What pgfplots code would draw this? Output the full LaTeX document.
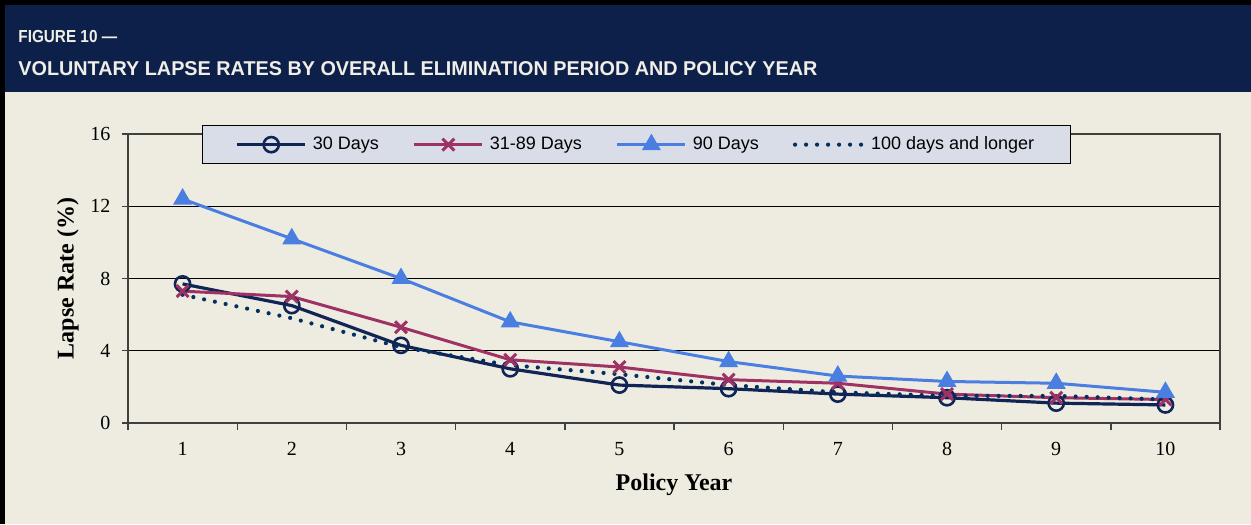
\documentclass[border=0pt]{standalone}
\usepackage{pgfplots}
\pgfplotsset{compat=1.18}
\usepackage{fontspec}
\setmainfont{Liberation Serif}
\newfontfamily\arial{Liberation Sans}
\newfontfamily\arialnarrow[FakeStretch=0.88]{Liberation Sans}
\newfontfamily\arialtitle[FakeStretch=0.99]{Liberation Sans}
\definecolor{bg}{RGB}{238,236,225}
\definecolor{headnavy}{RGB}{12,32,74}
\definecolor{headtext}{RGB}{240,238,230}
\definecolor{legfill}{RGB}{217,221,232}
\definecolor{cthirty}{RGB}{16,36,86}
\definecolor{cmid}{RGB}{158,50,100}
\definecolor{cninety}{RGB}{74,126,225}
\definecolor{chund}{RGB}{0,48,96}
\begin{document}
\begin{tikzpicture}[x=0.5pt,y=0.5pt]
\useasboundingbox (0,0) rectangle (1251,524);
\fill[bg] (0,0) rectangle (1251,524);
\fill[headnavy] (0,432) rectangle (1251,524);
\fill[black] (0,519) rectangle (1251,524);
\fill[black] (0,0) rectangle (5,524);
\node[anchor=base west, inner sep=0pt, text=headtext, font=\arialnarrow\bfseries\fontsize{8.7}{10}\selectfont] at (18,481) {FIGURE 10 —};
\node[anchor=base west, inner sep=0pt, text=headtext, font=\arialtitle\bfseries\fontsize{10}{12}\selectfont] at (18,448) {VOLUNTARY LAPSE RATES BY OVERALL ELIMINATION PERIOD AND POLICY YEAR};
\begin{axis}[
  at={(64pt,50.5pt)}, anchor=south west,
  scale only axis, width=546pt, height=144.5pt,
  xmin=0.5, xmax=10.5, ymin=0, ymax=16,
  ytick={0,4,8,12,16},
  xtick={0.5,1.5,...,10.5}, xticklabels={},
  extra x ticks={1,2,3,4,5,6,7,8,9,10},
  extra x tick labels={1,2,3,4,5,6,7,8,9,10},
  extra x tick style={major tick length=0pt, tick label style={yshift=-6pt}},
  xtick pos=bottom, ytick pos=left,
  tick align=outside, major tick length=3.25pt,
  tick style={color=black!75, line width=0.7pt},
  ymajorgrids, grid style={black, line width=0.65pt},
  axis line style={black!75, line width=0.8pt},
  axis background/.style={fill=bg},
  /pgf/number format/assume math mode=true,
  ticklabel style={font=\fontsize{10}{12}\selectfont},
  yticklabel style={xshift=-2pt},
  xlabel={\textbf{Policy Year}},
  ylabel={\textbf{Lapse Rate (\%)}},
  label style={font=\fontsize{12}{14}\selectfont},
  xlabel style={at={(axis description cs:0.5,-0.232)}, anchor=base},
  ylabel style={at={(axis description cs:-0.055,0.5)}, anchor=center},
  legend columns=4,
  legend style={at={(axis description cs:0.0678,1.031)}, anchor=north west,
    fill=legfill, draw=black, line width=0.6pt, font=\arial\fontsize{9}{11}\selectfont,
    inner xsep=16.5pt, inner ysep=4pt,
    nodes={inner sep=1.5pt},
    /tikz/every odd column/.append style={column sep=1.5pt},
    /tikz/every even column/.append style={column sep=15.5pt}},
  legend cell align=left,
  legend image code/.code={\draw[mark repeat=2,mark phase=2,#1] plot coordinates {(0pt,0pt) (17pt,0pt) (34pt,0pt)};},
]
\addplot[cthirty, line width=1.6pt, mark=o, mark size=3.8pt, mark options={line width=1.3pt, fill=none, solid}] coordinates {
(1,7.7) (2,6.5) (3,4.3) (4,3.0) (5,2.1) (6,1.9) (7,1.6) (8,1.4) (9,1.1) (10,1.0)};
\addlegendentry{30 Days}
\addplot[cmid, line width=1.5pt, mark=x, mark size=4.2pt, mark options={line width=1.5pt, solid}] coordinates {
(1,7.3) (2,7.0) (3,5.3) (4,3.5) (5,3.1) (6,2.4) (7,2.2) (8,1.6) (9,1.4) (10,1.3)};
\addlegendentry{31-89 Days}
\addplot[cninety, line width=1.5pt, mark=triangle*, mark size=4pt, mark options={solid}] coordinates {
(1,12.4) (2,10.2) (3,8.0) (4,5.6) (5,4.5) (6,3.4) (7,2.6) (8,2.3) (9,2.2) (10,1.7)};
\addlegendentry{90 Days}
\addplot[chund, line width=2.1pt, line cap=round, dash pattern=on 0pt off 5.5pt] coordinates {
(1,7.1) (2,5.8) (3,4.2) (4,3.2) (5,2.7) (6,2.1) (7,1.7) (8,1.5) (9,1.5) (10,1.3)};
\addlegendentry{100 days and longer}
\end{axis}
\end{tikzpicture}
\end{document}
